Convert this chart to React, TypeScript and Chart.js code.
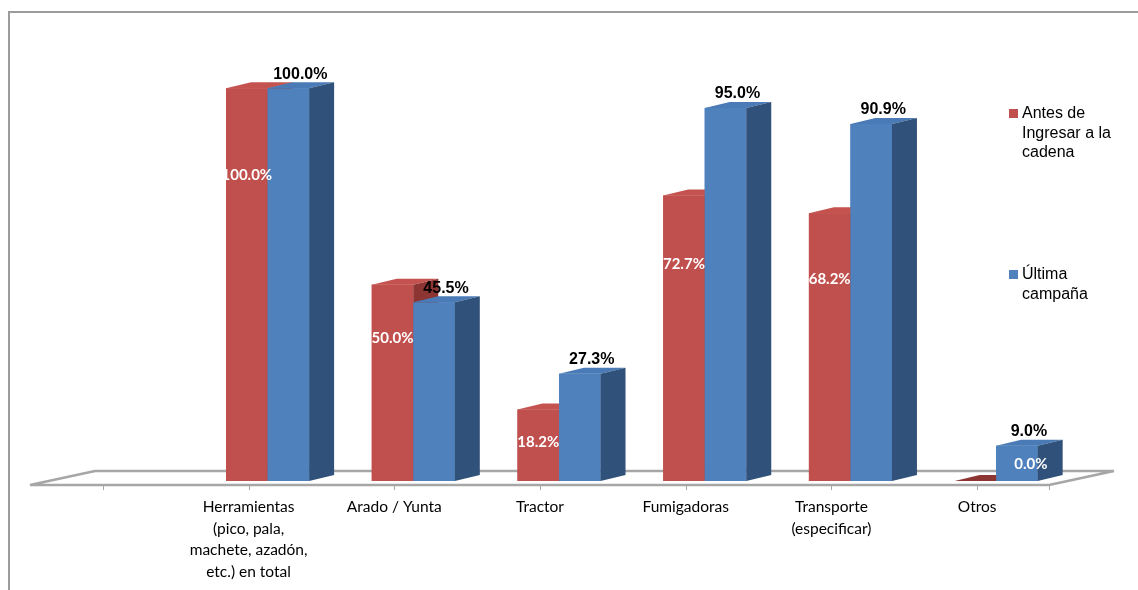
import React, { useEffect, useRef } from "react";
import { Chart, registerables } from "chart.js";

Chart.register(...registerables);

// ---- data ----
const categoryLabels: string[][] = [
  [""],
  ["Herramientas", "(pico, pala,", "machete, azadón,", "etc.) en total"],
  ["Arado / Yunta"],
  ["Tractor"],
  ["Fumigadoras"],
  ["Transporte", "(especificar)"],
  ["Otros"],
];
const seriesNames = ["Antes de Ingresar a la cadena", "Última campaña"];
const antesValues: (number | null)[] = [null, 100.0, 50.0, 18.2, 72.7, 68.2, 0.0];
const ultimaValues: (number | null)[] = [null, 100.0, 45.5, 27.3, 95.0, 90.9, 9.0];

// ---- styling ----
const palette = [
  { front: "#C0504D", top: "#C4534F", side: "#8C3533", zero: "#8C3533" },
  { front: "#4F81BD", top: "#4A7BB6", side: "#30517A", zero: "#30517A" },
];
const DX = 25;
const DY = -6;
const LABEL_SHIFT = -19;

function wrapText(ctx: CanvasRenderingContext2D, text: string, maxW: number): string[] {
  const words = text.split(" ");
  const lines: string[] = [];
  let cur = "";
  for (const w of words) {
    const test = cur ? cur + " " + w : w;
    if (cur && ctx.measureText(test).width > maxW) {
      lines.push(cur);
      cur = w;
    } else cur = test;
  }
  if (cur) lines.push(cur);
  return lines;
}

function poly(ctx: CanvasRenderingContext2D, pts: number[][], color: string) {
  ctx.beginPath();
  ctx.moveTo(pts[0][0], pts[0][1]);
  for (let i = 1; i < pts.length; i++) ctx.lineTo(pts[i][0], pts[i][1]);
  ctx.closePath();
  ctx.fillStyle = color;
  ctx.fill();
}

const threeDPlugin = {
  id: "threeD",
  beforeDraw(chart: any) {
    const ctx = chart.ctx as CanvasRenderingContext2D;
    ctx.save();
    ctx.fillStyle = "#ffffff";
    ctx.fillRect(0, 0, chart.width, chart.height);
    ctx.restore();
  },
  beforeDatasetsDraw(chart: any) {
    const ctx = chart.ctx as CanvasRenderingContext2D;
    const xs = chart.scales.x;
    const ys = chart.scales.y;
    const base = ys.getPixelForValue(0);
    const { left, right } = chart.chartArea;
    const fy = base + 4;
    const by = base - 10;
    ctx.save();
    ctx.strokeStyle = "#A6A6A6";
    ctx.lineWidth = 2.5;
    ctx.lineJoin = "bevel";
    ctx.beginPath();
    ctx.moveTo(left + LABEL_SHIFT, fy);
    ctx.lineTo(right - 20, fy);
    ctx.lineTo(right + 45, by);
    ctx.lineTo(left + 46, by);
    ctx.closePath();
    ctx.stroke();
    // ticks
    ctx.lineWidth = 1;
    ctx.strokeStyle = "#A6A6A6";
    const tickXs: number[] = [];
    for (let i = 0; i < categoryLabels.length; i++) tickXs.push(xs.getPixelForValue(i) + LABEL_SHIFT);
    tickXs.push(right - 20);
    for (const tx of tickXs) {
      ctx.beginPath();
      ctx.moveTo(Math.round(tx) + 0.5, fy + 1);
      ctx.lineTo(Math.round(tx) + 0.5, fy + 5);
      ctx.stroke();
    }
    ctx.restore();
  },
  afterDatasetsDraw(chart: any) {
    const ctx = chart.ctx as CanvasRenderingContext2D;
    const xs = chart.scales.x;
    ctx.save();
    // redraw bars in correct depth order with 3D faces
    const metas = [0, 1].map((i) => chart.getDatasetMeta(i));
    for (let d = 0; d < 2; d++) {
      const cols = palette[d];
      metas[d].data.forEach((el: any, i: number) => {
        const v = chart.data.datasets[d].data[i];
        if (v === null || v === undefined) return;
        const { x, y, base, width } = el.getProps(["x", "y", "base", "width"], true);
        const l = x - width / 2;
        const r = x + width / 2;
        const h = base - y;
        if (h > 0.5) {
          ctx.fillStyle = cols.front;
          ctx.fillRect(l, y, width, h);
          poly(ctx, [[l, y], [r, y], [r + DX, y + DY], [l + DX, y + DY]], cols.top);
          poly(ctx, [[r, y], [r + DX, y + DY], [r + DX, base + DY], [r, base]], cols.side);
        } else {
          poly(ctx, [[l, base], [r, base], [r + DX, base + DY], [l + DX, base + DY]], cols.zero);
        }
      });
    }
    // data labels
    ctx.textAlign = "center";
    ctx.textBaseline = "middle";
    metas[0].data.forEach((el: any, i: number) => {
      const v = chart.data.datasets[0].data[i];
      if (v === null || v === undefined) return;
      const { x, y, base } = el.getProps(["x", "y", "base"], true);
      let lx = x;
      const ly = Math.min(y + 20 + 0.17 * (base - y), base - 17);
      if (v === 0) {
        const other = metas[1].data[i].getProps(["x"], true);
        lx = other.x + 14;
      }
      ctx.font = "bold 15px Lato";
      ctx.fillStyle = "#ffffff";
      ctx.fillText(v.toFixed(1) + "%", lx, ly);
    });
    metas[1].data.forEach((el: any, i: number) => {
      const v = chart.data.datasets[1].data[i];
      if (v === null || v === undefined) return;
      const { x, y } = el.getProps(["x", "y"], true);
      ctx.font = "bold 16px 'Liberation Sans', Arial";
      ctx.fillStyle = "#000000";
      ctx.fillText(v.toFixed(1) + "%", x + 12, y - 14);
    });
    // category labels
    ctx.font = "15.5px Lato";
    ctx.fillStyle = "#000000";
    categoryLabels.forEach((lines, i) => {
      const cx = xs.getPixelForValue(i) + LABEL_SHIFT;
      lines.forEach((t, k) => ctx.fillText(t, cx, 507 + k * 21.5));
    });
    // legend
    ctx.font = "16px 'Liberation Sans', Arial";
    ctx.textAlign = "left";
    const legendTops = [114, 275];
    chart.data.datasets.forEach((ds: any, d: number) => {
      const y0 = legendTops[d];
      ctx.fillStyle = palette[d].front;
      ctx.fillRect(1009, y0 - 5, 9, 9);
      ctx.fillStyle = "#000000";
      const lines = wrapText(ctx, ds.label, 96);
      lines.forEach((t, k) => ctx.fillText(t, 1022, y0 + k * 19.5));
    });
    // outer border
    ctx.strokeStyle = "#9C9C9C";
    ctx.lineWidth = 2;
    ctx.beginPath();
    ctx.moveTo(9, 600);
    ctx.lineTo(9, 12);
    ctx.lineTo(1150, 12);
    ctx.stroke();
    ctx.restore();
  },
};

export default function App() {
  const ref = useRef<HTMLCanvasElement>(null);
  useEffect(() => {
    const chart = new Chart(ref.current as HTMLCanvasElement, {
      type: "bar",
      data: {
        labels: categoryLabels,
        datasets: [
          {
            label: seriesNames[0],
            data: antesValues,
            backgroundColor: palette[0].front,
            categoryPercentage: 0.57,
            barPercentage: 1.0,
          },
          {
            label: seriesNames[1],
            data: ultimaValues,
            backgroundColor: palette[1].front,
            categoryPercentage: 0.57,
            barPercentage: 1.0,
          },
        ],
      },
      options: {
        responsive: false,
        animation: false,
        devicePixelRatio: 1,
        layout: { padding: { left: 49, right: 69, top: 49, bottom: 109 } },
        plugins: { legend: { display: false }, tooltip: { enabled: false } },
        scales: {
          x: { display: false },
          y: { display: false, min: 0, max: 110 },
        },
      },
      plugins: [threeDPlugin],
    } as any);
    return () => chart.destroy();
  }, []);
  return (
    <div style={{ position: "absolute", left: 0, top: 0, width: 1138, height: 590, background: "#fff" }}>
      <canvas ref={ref} width={1138} height={590} style={{ display: "block" }} />
    </div>
  );
}
